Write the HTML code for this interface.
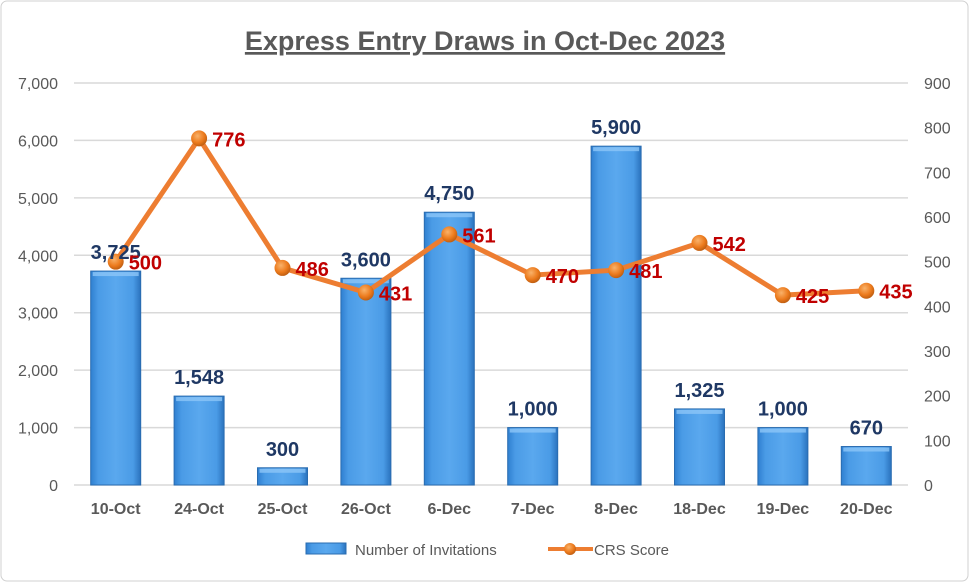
<!DOCTYPE html>
<html><head><meta charset="utf-8"><style>
html,body{margin:0;padding:0;background:#fff}
svg{display:block;font-family:"Liberation Sans",Calibri,sans-serif}
</style></head><body>
<svg id="chart" width="969" height="582" viewBox="0 0 969 582" xmlns="http://www.w3.org/2000/svg">
<defs>
<linearGradient id="barg" x1="0" x2="1" y1="0" y2="0">
<stop offset="0" stop-color="#2f7fd0"/><stop offset="0.15" stop-color="#4a9be6"/><stop offset="0.5" stop-color="#5aa8ee"/><stop offset="0.85" stop-color="#4a9be6"/><stop offset="1" stop-color="#2a72bd"/>
</linearGradient>
<radialGradient id="dotg" cx="0.4" cy="0.35" r="0.7">
<stop offset="0" stop-color="#f9b26a"/><stop offset="0.6" stop-color="#ec7a1c"/><stop offset="1" stop-color="#b85a10"/>
</radialGradient>
</defs>
<rect x="1" y="1" width="967" height="580" rx="6" fill="#fff" stroke="#d0d0d0"/>
<text x="485" y="50" text-anchor="middle" font-size="27" font-weight="bold" fill="#595959" text-decoration="underline">Express Entry Draws in Oct-Dec 2023</text>
<g id="grid"></g><g id="axes"></g><g id="bars"></g><g id="line"></g><g id="labels"></g>
<g>
<rect x="306" y="543" width="40" height="11" fill="url(#barg)" stroke="#2a6cb0"/>
<text x="355" y="555" font-size="15" fill="#595959">Number of Invitations</text>
<line x1="548" y1="549" x2="593" y2="549" stroke="#ed7d31" stroke-width="4"/>
<circle cx="570" cy="549" r="6" fill="url(#dotg)"/>
<text x="594" y="555" font-size="15" fill="#595959">CRS Score</text>
</g>
</svg>
<script>
const categories=["10-Oct","24-Oct","25-Oct","26-Oct","6-Dec","7-Dec","8-Dec","18-Dec","19-Dec","20-Dec"];
const invitations=[3725,1548,300,3600,4750,1000,5900,1325,1000,670];
const crsScores=[500,776,486,431,561,470,481,542,425,435];
const leftTicks=[0,1000,2000,3000,4000,5000,6000,7000];
const rightTicks=[0,100,200,300,400,500,600,700,800,900];
const NS="http://www.w3.org/2000/svg";
const plotL=74,plotR=908,y0=485,yTop=83;
const yL=v=>y0-(v/7000)*(y0-yTop);
const yR=v=>y0-(v/900)*(y0-yTop);
const step=(plotR-plotL)/categories.length;
const xC=i=>plotL+step*(i+0.5);
function mk(tag,attrs,parent,txt){const e=document.createElementNS(NS,tag);for(const k in attrs)e.setAttribute(k,attrs[k]);if(txt!==undefined)e.textContent=txt;document.getElementById(parent).appendChild(e);return e;}
leftTicks.forEach(t=>{
 const g=mk('line',{x1:plotL,x2:plotR,y1:yL(t),y2:yL(t),stroke:'#d9d9d9','stroke-width':1.5},'grid');
 
 
 const l=mk('text',{x:58,y:yL(t)+6,'text-anchor':'end','font-size':16,fill:'#595959'},'axes',t.toLocaleString('en-US'));
 
 
});
rightTicks.forEach(t=>{
 const l=mk('text',{x:924,y:yR(t)+6,'text-anchor':'start','font-size':16,fill:'#595959'},'axes',String(t));
 
 
});
categories.forEach((c,i)=>{
 const l=mk('text',{x:xC(i),y:514,'text-anchor':'middle','font-size':16,'font-weight':'bold',fill:'#595959'},'axes',c);
 
 
});
const bw=50;
invitations.forEach((v,i)=>{
 const b=mk('rect',{x:xC(i)-bw/2,y:yL(v),width:bw,height:y0-yL(v),fill:'url(#barg)',stroke:'#2a6cb0','stroke-width':1},'bars');
 
 
 const h=mk('rect',{x:xC(i)-bw/2+2,y:yL(v)+1,width:bw-4,height:4,fill:'#8cc6f7',opacity:0.8},'bars');
 
 
 const l=mk('text',{x:xC(i),y:yL(v)-12,'text-anchor':'middle','font-size':20,'font-weight':'bold',fill:'#1f3864'},'labels',v.toLocaleString('en-US'));
 
 
});
const pts=crsScores.map((v,i)=>xC(i)+','+yR(v)).join(' ');
const pl=mk('polyline',{points:pts,fill:'none',stroke:'#ed7d31','stroke-width':5,'stroke-linejoin':'round'},'line');


crsScores.forEach((v,i)=>{
 const d=mk('circle',{cx:xC(i),cy:yR(v),r:8,fill:'url(#dotg)'},'line');
 
 
 const l=mk('text',{x:xC(i)+13,y:yR(v)+8,'text-anchor':'start','font-size':20,'font-weight':'bold',fill:'#c00000'},'labels',String(v));
 
 
});
</script>
</body></html>
